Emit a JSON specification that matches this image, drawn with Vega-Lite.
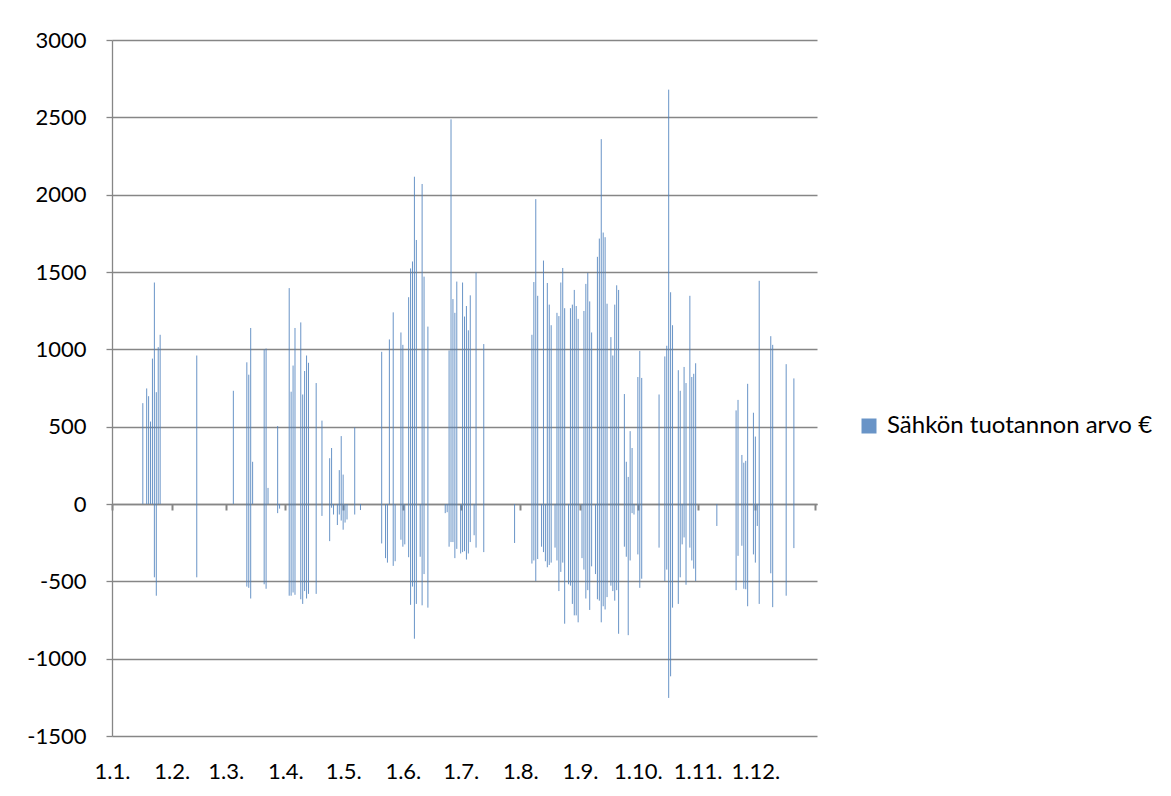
{
  "$schema": "https://vega.github.io/schema/vega-lite/v6.json",
  "width": 705,
  "height": 696,
  "autosize": "none",
  "padding": {"left": 112, "top": 40, "right": 354, "bottom": 60},
  "background": "white",
  "config": {
    "view": {"stroke": null},
    "font": "Lato"
  },
  "data": {
    "values": [
      {"d":"2013-01-17","v":652},{"d":"2013-01-19","v":747},{"d":"2013-01-20","v":697},{"d":"2013-01-21","v":533},{"d":"2013-01-22","v":940},
      {"d":"2013-01-23","v":1432},{"d":"2013-01-23","v":-474},{"d":"2013-01-24","v":723},{"d":"2013-01-24","v":-593},{"d":"2013-01-25","v":1014},{"d":"2013-01-26","v":1094},
      {"d":"2013-02-14","v":960},{"d":"2013-02-14","v":-474},
      {"d":"2013-03-05","v":732},{"d":"2013-03-12","v":916},{"d":"2013-03-12","v":-534},{"d":"2013-03-13","v":836},{"d":"2013-03-13","v":-542},
      {"d":"2013-03-14","v":1138},{"d":"2013-03-14","v":-611},{"d":"2013-03-15","v":273},{"d":"2013-03-21","v":999},{"d":"2013-03-21","v":-519},
      {"d":"2013-03-22","v":1005},{"d":"2013-03-22","v":-548},{"d":"2013-03-23","v":104},{"d":"2013-03-28","v":504},{"d":"2013-03-28","v":-59},{"d":"2013-03-29","v":-30},
      {"d":"2013-04-03","v":1396},{"d":"2013-04-03","v":-593},{"d":"2013-04-04","v":726},{"d":"2013-04-04","v":-593},{"d":"2013-04-05","v":895},{"d":"2013-04-05","v":-572},
      {"d":"2013-04-06","v":1138},{"d":"2013-04-06","v":-587},{"d":"2013-04-09","v":1174},{"d":"2013-04-09","v":-616},{"d":"2013-04-10","v":708},{"d":"2013-04-10","v":-646},
      {"d":"2013-04-11","v":860},{"d":"2013-04-11","v":-563},{"d":"2013-04-12","v":960},{"d":"2013-04-12","v":-611},{"d":"2013-04-13","v":913},{"d":"2013-04-13","v":-581},
      {"d":"2013-04-17","v":782},{"d":"2013-04-17","v":-581},{"d":"2013-04-20","v":539},{"d":"2013-04-20","v":-77},{"d":"2013-04-24","v":296},{"d":"2013-04-24","v":-240},
      {"d":"2013-04-25","v":362},{"d":"2013-04-25","v":-24},{"d":"2013-04-26","v":-68},{"d":"2013-04-28","v":-136},{"d":"2013-04-29","v":219},{"d":"2013-04-29","v":-68},
      {"d":"2013-04-30","v":439},{"d":"2013-04-30","v":-107},{"d":"2013-05-01","v":190},{"d":"2013-05-01","v":-166},{"d":"2013-05-02","v":-120},{"d":"2013-05-03","v":-100},
      {"d":"2013-05-07","v":495},{"d":"2013-05-07","v":-68},{"d":"2013-05-10","v":-39},
      {"d":"2013-05-21","v":984},{"d":"2013-05-21","v":-255},{"d":"2013-05-23","v":-350},{"d":"2013-05-24","v":-379},{"d":"2013-05-25","v":1064},
      {"d":"2013-05-27","v":1239},{"d":"2013-05-27","v":-400},{"d":"2013-05-28","v":-370},{"d":"2013-05-31","v":1109},{"d":"2013-05-31","v":-231},
      {"d":"2013-06-01","v":1029},{"d":"2013-06-01","v":-276},{"d":"2013-06-02","v":-261},{"d":"2013-06-04","v":1337},{"d":"2013-06-04","v":-344},
      {"d":"2013-06-05","v":1523},{"d":"2013-06-05","v":-652},{"d":"2013-06-06","v":1568},{"d":"2013-06-06","v":-534},{"d":"2013-06-07","v":2116},{"d":"2013-06-07","v":-871},
      {"d":"2013-06-08","v":1707},{"d":"2013-06-08","v":-646},{"d":"2013-06-10","v":-341},{"d":"2013-06-11","v":2069},{"d":"2013-06-11","v":-655},
      {"d":"2013-06-12","v":1470},{"d":"2013-06-12","v":-453},{"d":"2013-06-14","v":1147},{"d":"2013-06-14","v":-670},
      {"d":"2013-06-23","v":-59},{"d":"2013-06-24","v":-53},{"d":"2013-06-25","v":993},{"d":"2013-06-25","v":-276},{"d":"2013-06-26","v":2487},{"d":"2013-06-26","v":-246},
      {"d":"2013-06-27","v":1325},{"d":"2013-06-27","v":-246},{"d":"2013-06-28","v":1236},{"d":"2013-06-28","v":-350},{"d":"2013-06-29","v":1438},{"d":"2013-06-29","v":-290},
      {"d":"2013-07-01","v":-320},{"d":"2013-07-02","v":1432},{"d":"2013-07-02","v":-311},{"d":"2013-07-03","v":1212},{"d":"2013-07-03","v":-305},
      {"d":"2013-07-04","v":1280},{"d":"2013-07-04","v":-359},{"d":"2013-07-05","v":1123},{"d":"2013-07-05","v":-320},{"d":"2013-07-06","v":1349},{"d":"2013-07-06","v":-246},
      {"d":"2013-07-08","v":-202},{"d":"2013-07-09","v":1497},{"d":"2013-07-09","v":-282},{"d":"2013-07-13","v":1034},{"d":"2013-07-13","v":-311},{"d":"2013-07-29","v":-252},
      {"d":"2013-08-07","v":1094},{"d":"2013-08-07","v":-385},{"d":"2013-08-08","v":1435},{"d":"2013-08-08","v":-365},{"d":"2013-08-09","v":1971},{"d":"2013-08-09","v":-498},
      {"d":"2013-08-10","v":1346},{"d":"2013-08-10","v":-356},{"d":"2013-08-12","v":-276},{"d":"2013-08-13","v":1574},{"d":"2013-08-13","v":-311},{"d":"2013-08-14","v":-370},
      {"d":"2013-08-15","v":1429},{"d":"2013-08-15","v":-409},{"d":"2013-08-16","v":1289},{"d":"2013-08-16","v":-394},{"d":"2013-08-17","v":1156},{"d":"2013-08-17","v":-379},
      {"d":"2013-08-19","v":-282},{"d":"2013-08-20","v":1236},{"d":"2013-08-20","v":-365},{"d":"2013-08-21","v":1215},{"d":"2013-08-21","v":-563},
      {"d":"2013-08-22","v":1432},{"d":"2013-08-22","v":-439},{"d":"2013-08-23","v":1526},{"d":"2013-08-23","v":-379},{"d":"2013-08-24","v":1266},{"d":"2013-08-24","v":-774},
      {"d":"2013-08-26","v":-519},{"d":"2013-08-27","v":1266},{"d":"2013-08-27","v":-528},{"d":"2013-08-28","v":1289},{"d":"2013-08-28","v":-646},
      {"d":"2013-08-29","v":1384},{"d":"2013-08-29","v":-720},{"d":"2013-08-30","v":1280},{"d":"2013-08-30","v":-720},{"d":"2013-08-31","v":1197},{"d":"2013-08-31","v":-765},
      {"d":"2013-09-02","v":-350},{"d":"2013-09-03","v":1248},{"d":"2013-09-03","v":-424},{"d":"2013-09-04","v":1423},{"d":"2013-09-04","v":-611},
      {"d":"2013-09-05","v":1494},{"d":"2013-09-05","v":-557},{"d":"2013-09-06","v":1310},{"d":"2013-09-06","v":-685},{"d":"2013-09-07","v":1109},{"d":"2013-09-07","v":-403},
      {"d":"2013-09-09","v":-453},{"d":"2013-09-10","v":1598},{"d":"2013-09-10","v":-616},{"d":"2013-09-11","v":1716},{"d":"2013-09-11","v":-625},
      {"d":"2013-09-12","v":2359},{"d":"2013-09-12","v":-765},{"d":"2013-09-13","v":1755},{"d":"2013-09-13","v":-661},{"d":"2013-09-14","v":1725},{"d":"2013-09-14","v":-682},
      {"d":"2013-09-15","v":1295},{"d":"2013-09-15","v":-602},{"d":"2013-09-17","v":1079},{"d":"2013-09-17","v":-528},{"d":"2013-09-18","v":960},{"d":"2013-09-18","v":-563},
      {"d":"2013-09-19","v":1289},{"d":"2013-09-19","v":-625},{"d":"2013-09-20","v":1414},{"d":"2013-09-20","v":-557},{"d":"2013-09-21","v":1384},{"d":"2013-09-21","v":-839},
      {"d":"2013-09-24","v":711},{"d":"2013-09-24","v":-276},{"d":"2013-09-25","v":273},{"d":"2013-09-25","v":-341},{"d":"2013-09-26","v":175},{"d":"2013-09-26","v":-848},
      {"d":"2013-09-27","v":471},{"d":"2013-09-27","v":-365},{"d":"2013-09-28","v":362},{"d":"2013-09-28","v":-59},{"d":"2013-09-29","v":-68},
      {"d":"2013-10-01","v":821},{"d":"2013-10-01","v":-326},{"d":"2013-10-02","v":990},{"d":"2013-10-02","v":-542},{"d":"2013-10-03","v":815},{"d":"2013-10-03","v":-483},
      {"d":"2013-10-12","v":708},{"d":"2013-10-12","v":-282},{"d":"2013-10-15","v":954},{"d":"2013-10-15","v":-498},{"d":"2013-10-16","v":1023},{"d":"2013-10-16","v":-424},
      {"d":"2013-10-17","v":2679},{"d":"2013-10-17","v":-1254},{"d":"2013-10-18","v":1369},{"d":"2013-10-18","v":-1114},{"d":"2013-10-19","v":1156},{"d":"2013-10-19","v":-670},
      {"d":"2013-10-22","v":865},{"d":"2013-10-22","v":-646},{"d":"2013-10-23","v":732},{"d":"2013-10-23","v":-474},{"d":"2013-10-24","v":-261},
      {"d":"2013-10-25","v":886},{"d":"2013-10-25","v":-216},{"d":"2013-10-26","v":782},{"d":"2013-10-26","v":-522},{"d":"2013-10-28","v":1346},{"d":"2013-10-28","v":-282},
      {"d":"2013-10-29","v":821},{"d":"2013-10-29","v":-365},{"d":"2013-10-30","v":842},{"d":"2013-10-30","v":-418},{"d":"2013-10-31","v":910},{"d":"2013-10-31","v":-498},
      {"d":"2013-11-11","v":-142},{"d":"2013-11-21","v":605},{"d":"2013-11-21","v":-557},{"d":"2013-11-22","v":673},{"d":"2013-11-22","v":-335},
      {"d":"2013-11-24","v":317},{"d":"2013-11-24","v":-270},{"d":"2013-11-25","v":267},{"d":"2013-11-25","v":-548},{"d":"2013-11-26","v":279},{"d":"2013-11-26","v":-551},
      {"d":"2013-11-27","v":777},{"d":"2013-11-27","v":-661},{"d":"2013-11-30","v":590},{"d":"2013-11-30","v":-326},
      {"d":"2013-12-01","v":436},{"d":"2013-12-01","v":-379},{"d":"2013-12-02","v":-142},{"d":"2013-12-03","v":1443},{"d":"2013-12-03","v":-646},
      {"d":"2013-12-09","v":1085},{"d":"2013-12-09","v":-448},{"d":"2013-12-10","v":1029},{"d":"2013-12-10","v":-667},
      {"d":"2013-12-17","v":904},{"d":"2013-12-17","v":-593},{"d":"2013-12-21","v":812},{"d":"2013-12-21","v":-285}
    ]
  },
  "layer": [
    {
      "mark": {"type": "rule", "strokeWidth": 1, "opacity": 0.85},
      "encoding": {
        "x": {
          "field": "d", "type": "temporal",
          "scale": {"type": "utc", "domain": [{"year": 2013, "month": 1, "date": 1, "utc": true}, {"year": 2014, "month": 1, "date": 2, "utc": true}]},
          "axis": {
            "title": null, "orient": "bottom", "grid": false, "domain": false, "ticks": false,
            "labelExpr": "utcFormat(datum.value, '%-d.%-m.')",
            "values": [
              {"year": 2013, "month": 1, "date": 1, "utc": true},{"year": 2013, "month": 2, "date": 1, "utc": true},{"year": 2013, "month": 3, "date": 1, "utc": true},
              {"year": 2013, "month": 4, "date": 1, "utc": true},{"year": 2013, "month": 5, "date": 1, "utc": true},{"year": 2013, "month": 6, "date": 1, "utc": true},
              {"year": 2013, "month": 7, "date": 1, "utc": true},{"year": 2013, "month": 8, "date": 1, "utc": true},{"year": 2013, "month": 9, "date": 1, "utc": true},
              {"year": 2013, "month": 10, "date": 1, "utc": true},{"year": 2013, "month": 11, "date": 1, "utc": true},{"year": 2013, "month": 12, "date": 1, "utc": true}
            ],
            "labelFont": "Lato", "labelFontSize": 22, "labelColor": "#000000", "labelPadding": 25, "labelFlush": false, "labelOverlap": false
          }
        },
        "y": {
          "field": "v", "type": "quantitative",
          "scale": {"domain": [-1500, 3000], "nice": false, "zero": false},
          "axis": {
            "title": null, "values": [-1500, -1000, -500, 0, 500, 1000, 1500, 2000, 2500, 3000],
            "grid": true, "gridColor": "#868686", "gridWidth": 1.3, "gridOpacity": 1,
            "domain": true, "domainColor": "#868686", "domainWidth": 1.3,
            "ticks": true, "tickColor": "#868686", "tickSize": 6, "tickWidth": 1.3,
            "labelFont": "Lato", "labelFontSize": 22, "labelColor": "#000000", "labelPadding": 20,
            "labelExpr": "'' + datum.value"
          }
        },
        "y2": {"datum": 0},
        "color": {
          "datum": "Sähkön tuotannon arvo €",
          "scale": {"range": ["#4F81BD"]},
          "legend": {
            "title": null, "orient": "none", "legendX": 745, "legendY": 374,
            "symbolType": "square", "symbolSize": 225, "symbolFillColor": "#4F81BD", "symbolStrokeColor": "#4F81BD", "symbolStrokeWidth": 0,
            "labelFont": "Lato", "labelFontSize": 24, "labelColor": "#000000", "labelOffset": 6, "labelLimit": 400
          }
        }
      }
    },
    {
      "mark": {"type": "rule", "opacity": 0},
      "encoding": {
        "x": {
          "field": "d", "type": "temporal",
          "axis": {
            "title": null, "orient": "bottom", "offset": -232, "grid": false, "labels": false,
            "domain": true, "domainColor": "#868686", "domainWidth": 1.3,
            "ticks": true, "tickColor": "#868686", "tickSize": 6, "tickWidth": 2,
            "values": [
              {"year": 2013, "month": 1, "date": 1, "utc": true},{"year": 2013, "month": 2, "date": 1, "utc": true},{"year": 2013, "month": 3, "date": 1, "utc": true},
              {"year": 2013, "month": 4, "date": 1, "utc": true},{"year": 2013, "month": 5, "date": 1, "utc": true},{"year": 2013, "month": 6, "date": 1, "utc": true},
              {"year": 2013, "month": 7, "date": 1, "utc": true},{"year": 2013, "month": 8, "date": 1, "utc": true},{"year": 2013, "month": 9, "date": 1, "utc": true},
              {"year": 2013, "month": 10, "date": 1, "utc": true},{"year": 2013, "month": 11, "date": 1, "utc": true},{"year": 2013, "month": 12, "date": 1, "utc": true},
              {"year": 2014, "month": 1, "date": 1, "utc": true}
            ]
          }
        },
        "y": {"field": "v", "type": "quantitative"}
      }
    }
  ],
  "resolve": {"axis": {"x": "independent"}}
}
